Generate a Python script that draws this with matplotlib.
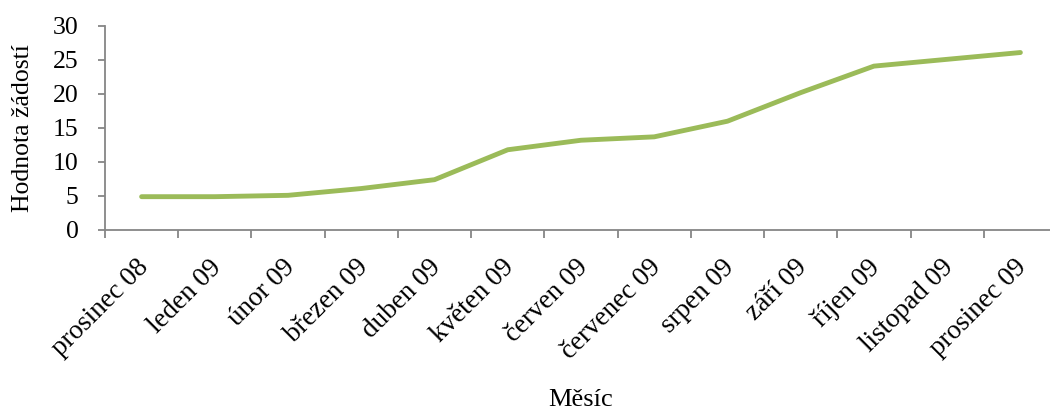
import matplotlib
matplotlib.use("Agg")
import matplotlib.pyplot as plt
import matplotlib.transforms as mtransforms
import numpy as np

categories = ["prosinec 08", "leden 09", "únor 09", "březen 09", "duben 09",
              "květen 09", "červen 09", "červenec 09", "srpen 09", "září 09",
              "říjen 09", "listopad 09", "prosinec 09"]
values = [4.9, 4.9, 5.1, 6.1, 7.4, 11.8, 13.2, 13.7, 16.0, 20.2, 24.1, 25.1, 26.1]
y_ticks = [0, 5, 10, 15, 20, 25, 30]

plt.rcParams['font.family'] = ['Liberation Serif', 'DejaVu Serif']

W, H = 1050, 412
fig = plt.figure(figsize=(W / 100, H / 100), dpi=100)
left, right = 105, 1057
top, bottom = 26, 230
ax = fig.add_axes([left / W, 1 - bottom / H, (right - left) / W, (bottom - top) / H])

x = np.arange(len(categories))
ax.plot(x, values, color="#9BBB59", lw=3.5, solid_capstyle="round", solid_joinstyle="round")

ax.set_xlim(-0.5, len(categories) - 0.5)
ax.set_ylim(0, 30)
ax.set_yticks(y_ticks)
ax.set_yticklabels([str(v) for v in y_ticks], fontsize=18.5)

ax.set_xticks(np.arange(-0.5, len(categories) + 0.5, 1))
ax.set_xticklabels([])
ax.set_xticks(x, minor=True)
ax.set_xticklabels(categories, minor=True, rotation=45, ha="right", va="top",
                   rotation_mode="anchor", fontsize=19.5)
ax.tick_params(axis="x", which="minor", length=0, pad=18)
ax.tick_params(axis="x", which="major", length=5.8, width=1.3, color="#868686", direction="out")
ax.tick_params(axis="y", length=5, width=1.3, color="#868686", direction="out", pad=14)

offset = mtransforms.ScaledTranslation(-6 / 100, 0, fig.dpi_scale_trans)
for lab in ax.get_xticklabels(minor=True):
    lab.set_transform(lab.get_transform() + offset)

for s in ["top", "right"]:
    ax.spines[s].set_visible(False)
for s in ["left", "bottom"]:
    ax.spines[s].set_color("#868686")
    ax.spines[s].set_linewidth(1.3)

fig.text(23 / W, 1 - 128 / H, "Hodnota žádostí", rotation=90, ha="center", va="center", fontsize=18.5)
fig.text(581 / W, 1 - 400 / H, "Měsíc", ha="center", va="center", fontsize=19)

fig.savefig("out.png", dpi=100)
